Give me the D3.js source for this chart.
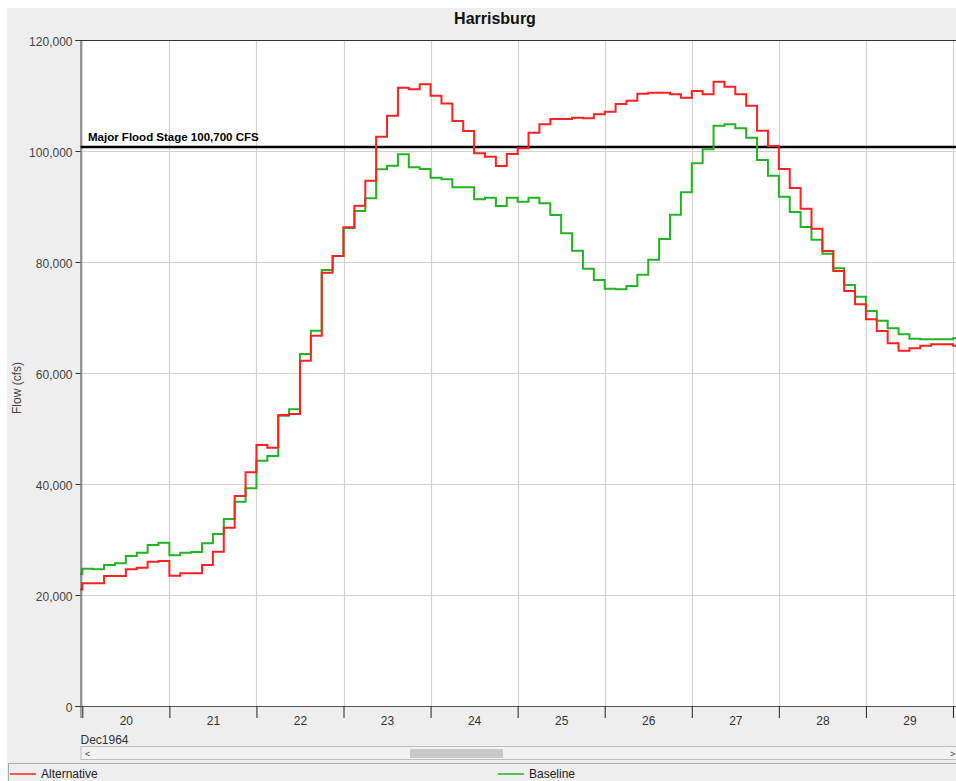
<!DOCTYPE html>
<html>
<head>
<meta charset="utf-8">
<script src="https://cdn.jsdelivr.net/npm/d3@7"></script>
<style>
  html, body { margin: 0; padding: 0; background: #ffffff; }
  svg { display: block; font-family: "Liberation Sans", Arial, sans-serif; }
</style>
</head>
<body>
<svg id="chart" width="956" height="781"></svg>
<script>
// ---------------- DATA ----------------
const title = "Harrisburg";
const yLabel = "Flow (cfs)";
const floodStage = 100700;
const floodLabel = "Major Flood Stage 100,700 CFS";
const monthLabel = "Dec1964";
const dayLabels = ["20", "21", "22", "23", "24", "25", "26", "27", "28", "29"];
const yTicks = [0, 20000, 40000, 60000, 80000, 100000, 120000];
const seriesNames = ["Alternative", "Baseline"];
// 3-hourly values, first value starts 1964-12-19 21:00
const firstTime = "1964-12-19T21:00:00Z";
const stepHours = 3;
const alternative = [
  21000,
  22100, 22100, 23420, 23420, 24620, 24920, 26000, 26130,
  23480, 23900, 23900, 25400, 27800, 32130, 37840, 42100,
  47030, 46540, 52430, 52610, 62220, 66720, 78080, 81080,
  86270, 90120, 94650, 102580, 106360, 111400, 111110, 112010,
  109960, 108580, 105410, 103600, 99580, 98980, 97300, 99460,
  100490, 103300, 104810, 105770, 105770, 106000, 105890, 106610,
  107080, 108470, 109060, 110300, 110510, 110510, 110210, 109600,
  110810, 110210, 112490, 111590, 110210, 108170, 103660, 100900,
  96760, 93330, 89600, 86000, 81980, 78380, 74780, 72380,
  69670, 67570, 65350, 64020, 64450, 64920, 65170, 65170,
  64920
];
const baseline = [
  23780,
  24740, 24620, 25400, 25710, 27030, 27630, 29010, 29430,
  27150, 27600, 27750, 29310, 30990, 33690, 36810, 39220,
  44170, 45050, 52310, 53460, 63420, 67630, 78560, 81080,
  86120, 89190, 91470, 96700, 97350, 99400, 97060, 96760,
  95190, 94900, 93460, 93460, 91290, 91590, 90090, 91590,
  90870, 91590, 90570, 88470, 85170, 82040, 78800, 76760,
  75190, 75070, 75670, 77720, 80420, 84140, 88500, 92580,
  97780, 100300, 104560, 104810, 104090, 102400, 98380, 95550,
  91770, 89010, 86300, 84020, 81500, 78860, 75850, 73750,
  71170, 69430, 68050, 66970, 66180, 66060, 66060, 66060,
  66240
];

// ---------------- LAYOUT ----------------
const svg = d3.select("#chart");
const W = 956, H = 781;
const plot = { left: 80.5, top: 40, right: 958, bottom: 706 };

const t0 = new Date(firstTime);
const toTime = i => new Date(t0.getTime() + i * stepHours * 3600e3);

const x = d3.scaleUtc()
  .domain([new Date("1964-12-19T23:30:00Z"), new Date("1964-12-30T01:00:00Z")])
  .range([plot.left, 956.6]);
const y = d3.scaleLinear().domain([0, 120000]).range([plot.bottom, plot.top]);

// background panels
svg.append("rect").attr("x", 0).attr("y", 0).attr("width", W).attr("height", H).attr("fill", "#ffffff");
svg.append("rect").attr("x", 7).attr("y", 8).attr("width", W - 7).attr("height", H - 8).attr("fill", "#eeeeee");
svg.append("rect").attr("x", plot.left).attr("y", plot.top)
  .attr("width", plot.right - plot.left).attr("height", plot.bottom - plot.top).attr("fill", "#ffffff");

// title
svg.append("text").attr("x", 495).attr("y", 24).attr("text-anchor", "middle")
  .attr("font-size", 16).attr("font-weight", "bold").attr("fill", "#111").text(title);

// gridlines
const midnights = d3.range(0, 11).map(d => new Date(Date.UTC(1964, 11, 20 + d)));
const grid = svg.append("g");
grid.selectAll("line.v").data(midnights).join("line")
  .attr("x1", d => Math.round(x(d)) + 0.5).attr("x2", d => Math.round(x(d)) + 0.5)
  .attr("y1", plot.top).attr("y2", plot.bottom)
  .attr("stroke", "#d2d2d2").attr("stroke-width", 1.2);
grid.selectAll("line.h").data(yTicks.filter(v => v > 0 && v < 120000)).join("line")
  .attr("x1", plot.left).attr("x2", plot.right)
  .attr("y1", d => Math.round(y(d)) + 0.5).attr("y2", d => Math.round(y(d)) + 0.5)
  .attr("stroke", "#d2d2d2").attr("stroke-width", 1.2);

// clip
svg.append("clipPath").attr("id", "clip").append("rect")
  .attr("x", plot.left).attr("y", plot.top).attr("width", plot.right - plot.left).attr("height", plot.bottom - plot.top);

// flood line
svg.append("line").attr("x1", plot.left).attr("x2", plot.right)
  .attr("y1", y(floodStage)).attr("y2", y(floodStage))
  .attr("stroke", "#000").attr("stroke-width", 2.5);
svg.append("text").attr("x", 88).attr("y", 140.5)
  .attr("font-size", 11.5).attr("font-weight", "bold").attr("fill", "#000").text(floodLabel);

// series
const line = d3.line().curve(d3.curveStepAfter).x(d => x(d.t)).y(d => y(d.v));
function mk(arr) {
  const pts = arr.map((v, i) => ({ t: toTime(i), v }));
  pts.push({ t: new Date("1964-12-30T06:00:00Z"), v: arr[arr.length - 1] });
  return pts;
}
const gSeries = svg.append("g").attr("clip-path", "url(#clip)");
gSeries.append("path").datum(mk(baseline)).attr("d", line)
  .attr("fill", "none").attr("stroke", "#22b422").attr("stroke-width", 2);
gSeries.append("path").datum(mk(alternative)).attr("d", line)
  .attr("fill", "none").attr("stroke", "#ff2020").attr("stroke-width", 2);

// y axis
const yAxis = d3.axisLeft(y).tickValues(yTicks).tickSize(5).tickPadding(3)
  .tickFormat(d3.format(","));
const gy = svg.append("g").attr("transform", `translate(${plot.left},0)`).call(yAxis);
gy.select(".domain").attr("stroke", "#333");
gy.selectAll(".tick line").attr("stroke", "#333");
gy.selectAll(".tick text").attr("font-size", 12).attr("fill", "#444")
  .attr("font-family", "'Liberation Sans', Arial, sans-serif").attr("dy", "0.45em");

// top border
svg.append("line").attr("x1", plot.left).attr("x2", plot.right).attr("y1", plot.top + 0.5).attr("y2", plot.top + 0.5)
  .attr("stroke", "#333");

// y label
svg.append("text").attr("transform", "translate(21,388) rotate(-90)").attr("text-anchor", "middle")
  .attr("font-size", 12).attr("fill", "#444").text(yLabel);

// x axis: ticks at midnights, labels at noon
const xAxisTicks = d3.axisBottom(x).tickValues(midnights).tickSize(12).tickFormat("");
const gx = svg.append("g").attr("transform", `translate(0,${plot.bottom})`).call(xAxisTicks);
gx.select(".domain").attr("stroke", "#555");
gx.selectAll(".tick line").attr("stroke", "#222");
const noons = dayLabels.map((d, i) => new Date(Date.UTC(1964, 11, 20 + i, 12)));
const xAxisLabels = d3.axisBottom(x).tickValues(noons).tickSize(0).tickPadding(10)
  .tickFormat((d, i) => dayLabels[i]);
const gxl = svg.append("g").attr("transform", `translate(0,${plot.bottom})`).call(xAxisLabels);
gxl.select(".domain").remove();
gxl.selectAll(".tick text").attr("font-size", 12).attr("fill", "#333")
  .attr("font-family", "'Liberation Sans', Arial, sans-serif");

svg.append("text").attr("x", plot.left).attr("y", 744).attr("font-size", 12).attr("fill", "#333").text(monthLabel);

// scrollbar
svg.append("rect").attr("x", 81).attr("y", 746.5).attr("width", 880).attr("height", 13)
  .attr("fill", "#f2f2f2").attr("stroke", "#bdbdbd");
svg.append("rect").attr("x", 410).attr("y", 749).attr("width", 93).attr("height", 9).attr("fill", "#c9c9c9");
svg.append("text").attr("x", 85).attr("y", 757).attr("font-size", 9).attr("fill", "#444").text("<");
svg.append("text").attr("x", 950).attr("y", 757).attr("font-size", 9).attr("fill", "#444").text(">");

// legend
svg.append("rect").attr("x", 8.5).attr("y", 763.5).attr("width", 960).attr("height", 30)
  .attr("fill", "#eeeeee").attr("stroke", "#a8a8a8");
const legendItems = [
  { name: seriesNames[0], color: "#ff2020", x: 10 },
  { name: seriesNames[1], color: "#22b422", x: 498 }
];
const lg = svg.append("g");
legendItems.forEach(it => {
  lg.append("line").attr("x1", it.x).attr("x2", it.x + 26).attr("y1", 774).attr("y2", 774)
    .attr("stroke", it.color).attr("stroke-width", 1.5);
  lg.append("text").attr("x", it.x + 31).attr("y", 778).attr("font-size", 12).attr("fill", "#222").text(it.name);
});
</script>
</body>
</html>
